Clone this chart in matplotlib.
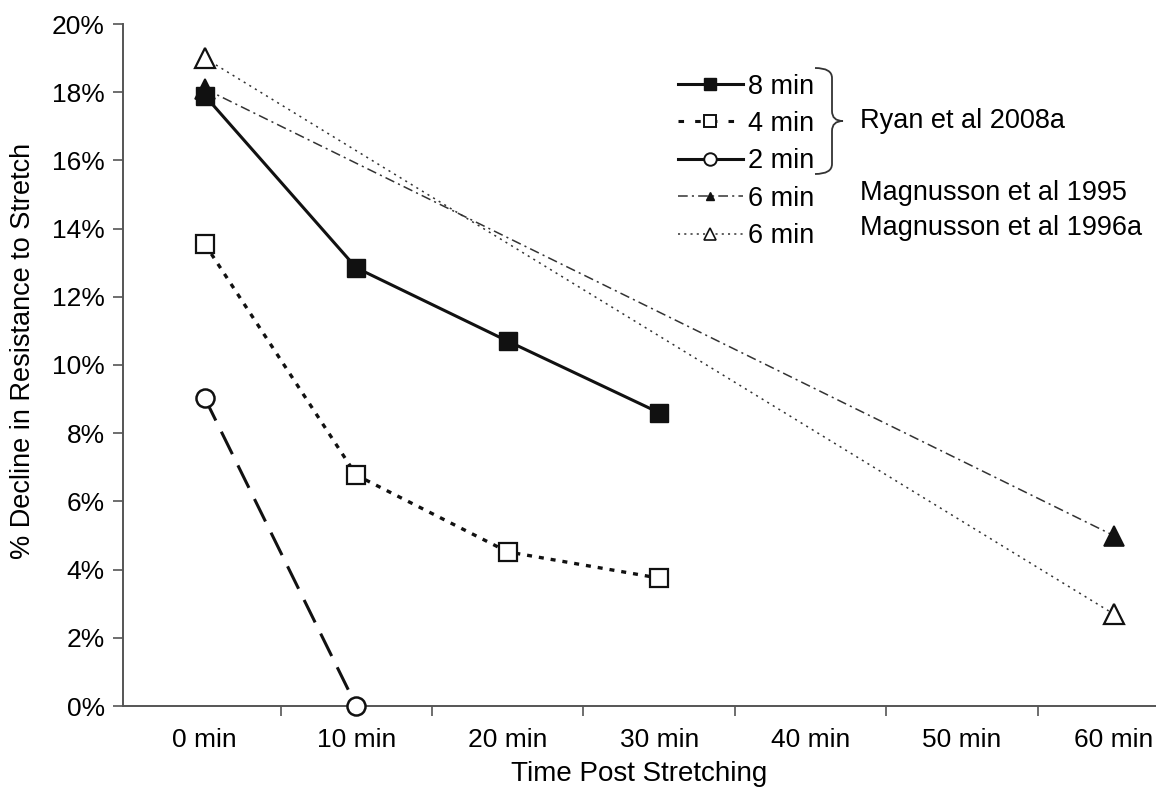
import matplotlib
matplotlib.use("Agg")
import matplotlib.pyplot as plt
from matplotlib.lines import Line2D
from matplotlib.path import Path
from matplotlib.patches import PathPatch
from matplotlib.ticker import PercentFormatter, FixedLocator

plt.rcParams['font.family'] = ['Liberation Sans', 'DejaVu Sans']
plt.rcParams['lines.scale_dashes'] = False

# categories on the x axis
times = ['0 min', '10 min', '20 min', '30 min', '40 min', '50 min', '60 min']

# series values (fraction decline), indexed by category position
ryan_8_x = [0, 1, 2, 3]
ryan_8_y = [0.179, 0.1285, 0.107, 0.086]
ryan_4_x = [0, 1, 2, 3]
ryan_4_y = [0.1355, 0.0677, 0.0452, 0.0375]
ryan_2_x = [0, 1]
ryan_2_y = [0.0903, 0.0]
mag95_x = [0, 6]
mag95_y = [0.181, 0.050]
mag96_x = [0, 6]
mag96_y = [0.190, 0.027]

W, H = 1156, 790
fig = plt.figure(figsize=(W / 100, H / 100), dpi=100)
ax = fig.add_axes([123 / W, 1 - 706 / H, 1 - 123 / W, (706 - 24) / H])

black = '#111111'
grey = '#333333'

# magnusson lines first (behind)
ax.plot(mag96_x, mag96_y, color=grey, lw=1.1, dashes=(1.5, 3.2),
        marker='^', ms=15, mfc='white', mec=black, mew=1.6, clip_on=False, zorder=2)
ax.plot(mag95_x, mag95_y, color=grey, lw=1.1, dashes=(7, 3, 1.5, 3),
        marker='^', ms=15, mfc=black, mec=black, mew=1.2, clip_on=False, zorder=2)

ax.plot(ryan_2_x, ryan_2_y, color=black, lw=2.2, dashes=(18, 9),
        marker='o', ms=13, mfc='white', mec=black, mew=1.8, clip_on=False, zorder=3)
ax.plot(ryan_4_x, ryan_4_y, color=black, lw=2.4, dashes=(3.6, 5),
        marker='s', ms=13, mfc='white', mec=black, mew=1.6, clip_on=False, zorder=3)
ax.plot(ryan_8_x, ryan_8_y, color=black, lw=2.2,
        marker='s', ms=13, mfc=black, mec=black, clip_on=False, zorder=4)

ax.set_xlim(-0.54, 6.28)
ax.set_ylim(0, 0.20)
ax.set_xticks(range(len(times)))
ax.set_xticklabels(times)
ax.xaxis.set_minor_locator(FixedLocator([i + 0.5 for i in range(6)]))
ax.tick_params(axis='x', which='major', length=0, pad=16, labelsize=19)
ax.tick_params(axis='x', which='minor', length=7, width=1.2, color='#555555', direction='out')
ax.set_yticks([i / 100 for i in range(0, 21, 2)])
ax.yaxis.set_major_formatter(PercentFormatter(1.0, decimals=0))
ax.tick_params(axis='y', length=7, width=1.2, color='#555555', labelsize=19, pad=6)

for s in ['top', 'right']:
    ax.spines[s].set_visible(False)
for s in ['left', 'bottom']:
    ax.spines[s].set_color('#555555')
    ax.spines[s].set_linewidth(1.4)

ax.set_xlabel('Time Post Stretching', fontsize=20, labelpad=6)
ax.set_ylabel('% Decline in Resistance to Stretch', fontsize=19.5)
ax.yaxis.set_label_coords(-0.084, 0.52)

handles = [
    Line2D([], [], color=black, lw=2.2, marker='s', ms=9, mfc=black, mec=black),
    Line2D([], [], color=black, lw=2.2, dashes=(4, 8), marker='s', ms=9, mfc='white', mec=black, mew=1.4),
    Line2D([], [], color=black, lw=2.2, marker='o', ms=9, mfc='white', mec=black, mew=1.4),
    Line2D([], [], color=grey, lw=1.1, dashes=(7, 3, 1.5, 3), marker='^', ms=6, mfc=black, mec=black),
    Line2D([], [], color=grey, lw=1.1, dashes=(1.5, 3), marker='^', ms=8, mfc='white', mec=black, mew=1.2),
]
labels = ['8 min', '4 min', '2 min', '6 min', '6 min']
fig.legend(handles, labels, loc='upper left', bbox_to_anchor=(664 / W, 1 - 60 / H),
           frameon=False, fontsize=19.5, handlelength=2.4, handletextpad=0.2,
           labelspacing=0.42, borderpad=0)

# brace grouping the Ryan series
def fx(x):
    return x / W

def fy(y):
    return 1 - y / H

bx, vx, px, top, bot, mid = 815, 832, 843, 68, 174, 121
verts = [(bx, top), (vx, top), (vx, top + 10),
         (vx, mid - 10), (vx, mid), (px, mid),
         (vx, mid), (vx, mid + 10),
         (vx, bot - 10), (vx, bot), (bx, bot)]
codes = [Path.MOVETO, Path.CURVE3, Path.CURVE3,
         Path.LINETO, Path.CURVE3, Path.CURVE3,
         Path.CURVE3, Path.CURVE3,
         Path.LINETO, Path.CURVE3, Path.CURVE3]
verts = [(fx(x), fy(y)) for x, y in verts]
fig.patches.append(PathPatch(Path(verts, codes), transform=fig.transFigure,
                             fill=False, lw=1.3, edgecolor='#333333'))

fig.text(fx(860), fy(121), 'Ryan et al 2008a', fontsize=19.5, va='center')
fig.text(fx(860), fy(193), 'Magnusson et al 1995', fontsize=19.5, va='center')
fig.text(fx(860), fy(228), 'Magnusson et al 1996a', fontsize=19.5, va='center')

fig.savefig('out.png', dpi=100)
